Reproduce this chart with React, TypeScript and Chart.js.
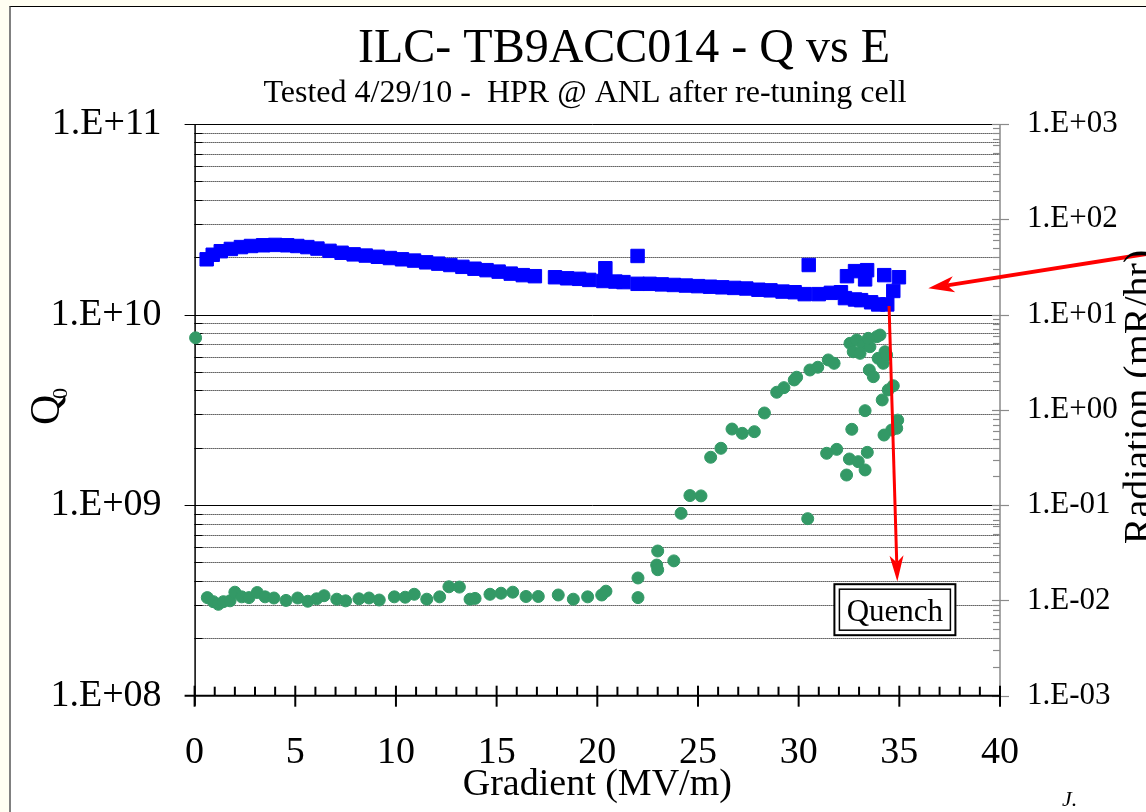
import React, { useEffect, useRef } from 'react';
import { Chart, registerables } from 'chart.js';

Chart.register(...registerables);

const FONT = '"Liberation Serif", "Times New Roman", serif';

// ---- Data: Q0 (left axis) vs gradient ----
const q0Gradient = [
  0.6, 0.9, 1.3, 1.8, 2.3, 2.8, 3.4, 4.0, 4.6, 5.1, 5.6, 6.1, 6.7, 7.3, 7.9, 8.5, 9.1, 9.7,
  10.3, 10.9, 11.5, 12.1, 12.7, 13.3, 13.9, 14.5, 15.1, 15.7, 16.3, 16.9, 17.9, 18.5, 19.1,
  19.6, 20.3, 20.4, 20.9, 21.3, 22.0, 22.0, 22.6, 23.2, 23.8, 24.4, 25.0, 25.6, 26.2, 26.8,
  27.4, 28.0, 28.6, 29.2, 29.8, 30.3, 30.5, 31.0, 31.6, 32.1, 32.3, 32.4, 32.8, 33.3, 33.4,
  32.8, 33.1, 33.6, 33.95, 34.4, 34.25, 34.7, 34.98,
];
const q0Values = [
  1.95e10, 2.06e10, 2.15e10, 2.21e10, 2.26e10, 2.29e10, 2.31e10, 2.32e10, 2.31e10, 2.29e10,
  2.26e10, 2.22e10, 2.16e10, 2.11e10, 2.07e10, 2.04e10, 2.01e10, 1.98e10, 1.95e10, 1.92e10,
  1.88e10, 1.85e10, 1.82e10, 1.78e10, 1.74e10, 1.71e10, 1.68e10, 1.64e10, 1.61e10, 1.59e10,
  1.57e10, 1.55e10, 1.54e10, 1.52e10, 1.50e10, 1.75e10, 1.49e10, 1.48e10, 2.03e10, 1.45e10,
  1.45e10, 1.44e10, 1.43e10, 1.42e10, 1.41e10, 1.40e10, 1.39e10, 1.38e10, 1.37e10, 1.35e10,
  1.34e10, 1.32e10, 1.31e10, 1.28e10, 1.82e10, 1.28e10, 1.30e10, 1.31e10, 1.22e10, 1.59e10,
  1.69e10, 1.53e10, 1.71e10, 1.20e10, 1.19e10, 1.16e10, 1.13e10, 1.13e10, 1.61e10, 1.33e10,
  1.57e10,
];

// ---- Data: radiation (right axis) vs gradient ----
const radGradient = [
  0.05, 0.63, 0.93, 1.18, 1.43, 1.76, 2.0, 2.34, 2.7, 3.11, 3.5, 3.94, 4.54, 5.12, 5.62, 6.06,
  6.43, 7.06, 7.5, 8.16, 8.66, 9.17, 9.92, 10.46, 10.91, 11.53, 12.17, 12.63, 13.15, 13.68,
  13.93, 14.67, 15.22, 15.8, 16.46, 17.07, 18.06, 18.81, 19.52, 20.22, 20.43, 22.02, 22.02,
  23.0, 22.95, 23.0, 23.8, 24.16, 24.6, 25.15, 25.63, 26.14, 26.69, 27.2, 27.8, 28.3, 28.91,
  29.27, 29.78, 29.9, 30.56, 30.95, 31.47, 31.76, 30.45, 32.55, 32.88, 33.21, 32.71, 33.05,
  33.54, 34.04, 33.88, 33.46, 34.29, 33.95, 34.2, 34.37, 33.51, 33.71, 34.7, 34.45, 34.15,
  33.3, 32.64, 34.92, 34.87, 34.62, 34.24, 31.39, 31.89, 33.41, 32.52, 32.96, 33.3, 32.38,
];
const radValues = [
  5.7, 0.0107, 0.0097, 0.0091, 0.0097, 0.0099, 0.0122, 0.0109, 0.0107, 0.0121, 0.0109, 0.0106,
  0.0100, 0.0106, 0.0098, 0.0104, 0.0112, 0.0103, 0.0099, 0.0104, 0.0106, 0.0101, 0.0109,
  0.0108, 0.0116, 0.0103, 0.0109, 0.0139, 0.0138, 0.0103, 0.0105, 0.0116, 0.0119, 0.0122,
  0.0110, 0.0110, 0.0114, 0.0103, 0.0109, 0.0114, 0.0125, 0.0172, 0.0107, 0.033, 0.0235, 0.021,
  0.026, 0.082, 0.126, 0.125, 0.318, 0.395, 0.629, 0.567, 0.59, 0.927, 1.53, 1.71, 2.06, 2.2,
  2.62, 2.8, 3.34, 3.08, 0.0721, 4.99, 5.41, 4.8, 4.07, 3.92, 4.6, 6.1, 5.86, 5.63, 4.07, 3.47,
  3.08, 3.77, 2.62, 2.23, 1.79, 1.62, 1.27, 0.98, 0.625, 0.78, 0.64, 0.614, 0.544, 0.35, 0.385,
  0.358, 0.305, 0.286, 0.234, 0.207,
];

// ---- Ticks & labels ----
const gradientTickValues = [0, 5, 10, 15, 20, 25, 30, 35, 40];
const gradientTickLabels = ['0', '5', '10', '15', '20', '25', '30', '35', '40'];
const q0TickValues = [1e8, 1e9, 1e10, 1e11];
const q0TickLabels = ['1.E+08', '1.E+09', '1.E+10', '1.E+11'];
const radTickValues = [1e-3, 1e-2, 1e-1, 1e0, 1e1, 1e2, 1e3];
const radTickLabels = ['1.E-03', '1.E-02', '1.E-01', '1.E+00', '1.E+01', '1.E+02', '1.E+03'];

const titleText = 'ILC- TB9ACC014 - Q vs E';
const subtitleText = 'Tested 4/29/10 -  HPR @ ANL after re-tuning cell';
const xAxisTitle = 'Gradient (MV/m)';
const yAxisTitleMain = 'Q';
const yAxisTitleSub = '0';
const y2AxisTitle = 'Radiation (mR/hr)';
const quenchLabel = 'Quench';
const footnote = 'J.';

// annotation anchors in data units (gradient, Q0)
const pointerArrow = { from: [48.44, 2.177e10], to: [36.44, 1.373e10] };
const quenchArrow = { from: [34.49, 1.109e10], to: [34.9, 3.975e8] };
const quenchBoxAt = [34.78, 2.827e8];

// ---- Layout constants ----
const W = 1250;
const H = 812;
const PLOT_LEFT = 194.6;
const PLOT_RIGHT = 1000;
const PLOT_TOP = 124;
const PLOT_BOTTOM = 695.7;

const matchLabel = (values: number[], labels: string[], v: number) => {
  const i = values.findIndex((t) => Math.abs(t - v) <= Math.abs(t) * 1e-6);
  return i >= 0 ? labels[i] : '';
};

function drawArrow(
  ctx: CanvasRenderingContext2D,
  x1: number, y1: number, x2: number, y2: number,
  lw: number, headLen: number, headHalf: number, notch: number,
) {
  const ang = Math.atan2(y2 - y1, x2 - x1);
  const ux = Math.cos(ang), uy = Math.sin(ang);
  const px = -uy, py = ux;
  ctx.save();
  ctx.strokeStyle = '#ff0000';
  ctx.fillStyle = '#ff0000';
  ctx.lineWidth = lw;
  ctx.lineCap = 'butt';
  ctx.beginPath();
  ctx.moveTo(x1, y1);
  ctx.lineTo(x2 - ux * (headLen - notch), y2 - uy * (headLen - notch));
  ctx.stroke();
  const bx = x2 - ux * headLen, by = y2 - uy * headLen;
  ctx.beginPath();
  ctx.moveTo(x2, y2);
  ctx.lineTo(bx + px * headHalf, by + py * headHalf);
  ctx.lineTo(x2 - ux * (headLen - notch), y2 - uy * (headLen - notch));
  ctx.lineTo(bx - px * headHalf, by - py * headHalf);
  ctx.closePath();
  ctx.fill();
  ctx.restore();
}

const decorPlugin = {
  id: 'decor',
  beforeDatasetsDraw(chart: any) {
    const ctx: CanvasRenderingContext2D = chart.ctx;
    const { left, right, top, bottom } = chart.chartArea;
    const ys = chart.scales.y;
    const y2 = chart.scales.y2;
    const xs = chart.scales.x;
    ctx.save();
    // left-axis gridlines (solid at decades, dotted at minor)
    const e0 = Math.round(Math.log10(ys.min));
    const e1 = Math.round(Math.log10(ys.max));
    for (let e = e0; e <= e1; e++) {
      for (let m = 1; m <= 9; m++) {
        if (e === e1 && m > 1) break;
        const v = m * Math.pow(10, e);
        const py = Math.round(ys.getPixelForValue(v)) + 0.5;
        if (m === 1) {
          if (e === e0) continue;
          ctx.setLineDash([]);
          ctx.strokeStyle = '#000';
          ctx.lineWidth = 1;
          ctx.beginPath();
          ctx.moveTo(left - 10, py);
          ctx.lineTo(right, py);
          ctx.stroke();
        } else {
          ctx.setLineDash([1, 1]);
          ctx.strokeStyle = '#000';
          ctx.lineWidth = 1;
          ctx.beginPath();
          ctx.moveTo(left, py);
          ctx.lineTo(right, py);
          ctx.stroke();
          ctx.setLineDash([]);
          ctx.beginPath();
          ctx.moveTo(left, py);
          ctx.lineTo(left + 8, py);
          ctx.stroke();
        }
      }
    }
    ctx.setLineDash([]);
    // right axis (grey)
    ctx.strokeStyle = '#8a8a8a';
    ctx.lineWidth = 1.5;
    ctx.beginPath();
    ctx.moveTo(right, top);
    ctx.lineTo(right, bottom);
    ctx.stroke();
    const r0 = Math.round(Math.log10(y2.min));
    const r1 = Math.round(Math.log10(y2.max));
    ctx.lineWidth = 1.2;
    for (let e = r0; e <= r1; e++) {
      for (let m = 1; m <= 9; m++) {
        if (e === r1 && m > 1) break;
        const py = Math.round(y2.getPixelForValue(m * Math.pow(10, e))) + 0.5;
        ctx.beginPath();
        if (m === 1) {
          ctx.moveTo(right - 8, py);
          ctx.lineTo(right + 9, py);
        } else {
          ctx.moveTo(right - 7, py);
          ctx.lineTo(right, py);
        }
        ctx.stroke();
      }
    }
    // left axis line
    ctx.strokeStyle = '#000';
    ctx.lineWidth = 1.5;
    ctx.beginPath();
    ctx.moveTo(left + 0.5, top);
    ctx.lineTo(left + 0.5, bottom + 10);
    ctx.stroke();
    // x axis line + ticks
    ctx.lineWidth = 2;
    ctx.beginPath();
    ctx.moveTo(left - 10, bottom);
    ctx.lineTo(right, bottom);
    ctx.stroke();
    for (let v = xs.min; v <= xs.max; v += 1) {
      const px = xs.getPixelForValue(v);
      ctx.beginPath();
      if (v % 5 === 0) {
        ctx.moveTo(px, bottom - 10);
        ctx.lineTo(px, bottom + 11);
      } else {
        ctx.moveTo(px, bottom - 9);
        ctx.lineTo(px, bottom);
      }
      ctx.stroke();
    }
    ctx.restore();
  },
  afterDatasetsDraw(chart: any) {
    const ctx: CanvasRenderingContext2D = chart.ctx;
    const xs = chart.scales.x;
    const ys = chart.scales.y;
    const P = (p: number[]) => [xs.getPixelForValue(p[0]), ys.getPixelForValue(p[1])];
    ctx.save();
    // arrows
    const [a1x, a1y] = P(pointerArrow.from);
    const [a2x, a2y] = P(pointerArrow.to);
    drawArrow(ctx, a1x, a1y, a2x, a2y, 4, 26, 8, 7);
    const [b1x, b1y] = P(quenchArrow.from);
    const [b2x, b2y] = P(quenchArrow.to);
    drawArrow(ctx, b1x, b1y, b2x, b2y, 3, 26, 7, 7);
    // Quench box
    const [qx, qy] = P(quenchBoxAt);
    ctx.fillStyle = '#fff';
    ctx.fillRect(qx - 60.5, qy - 25.5, 121, 51);
    ctx.strokeStyle = '#000';
    ctx.lineWidth = 2;
    ctx.strokeRect(qx - 60.5, qy - 25.5, 121, 51);
    ctx.lineWidth = 1.5;
    ctx.strokeRect(qx - 55.5, qy - 20.5, 111, 41);
    ctx.fillStyle = '#000';
    ctx.font = `31px ${FONT}`;
    ctx.textAlign = 'center';
    ctx.textBaseline = 'alphabetic';
    ctx.fillText(quenchLabel, qx, qy + 11.5);
    ctx.restore();
  },
  afterDraw(chart: any) {
    const ctx: CanvasRenderingContext2D = chart.ctx;
    ctx.save();
    ctx.fillStyle = '#000';
    ctx.textBaseline = 'alphabetic';
    ctx.textAlign = 'center';
    ctx.font = `48px ${FONT}`;
    ctx.fillText(titleText, 624, 62);
    ctx.font = `32px ${FONT}`;
    ctx.fillText(subtitleText, 585, 102);
    // Q0 axis title
    ctx.save();
    ctx.translate(58.7, 425);
    ctx.rotate(-Math.PI / 2);
    ctx.textAlign = 'left';
    ctx.font = `42px ${FONT}`;
    ctx.fillText(yAxisTitleMain, 0, 0);
    ctx.font = `22px ${FONT}`;
    ctx.fillText(yAxisTitleSub, 26, 8);
    ctx.restore();
    // Radiation axis title
    ctx.save();
    ctx.translate(1151, 397);
    ctx.rotate(-Math.PI / 2);
    ctx.textAlign = 'center';
    ctx.font = `40px ${FONT}`;
    ctx.fillText(y2AxisTitle, 0, 0);
    ctx.restore();
    // footnote
    ctx.textAlign = 'left';
    ctx.font = `italic 22px ${FONT}`;
    ctx.fillText(footnote, 1062, 806);
    ctx.restore();
  },
};

export default function App() {
  const ref = useRef<HTMLCanvasElement | null>(null);
  useEffect(() => {
    if (!ref.current) return;
    const chart = new Chart(ref.current, {
      type: 'scatter',
      data: {
        datasets: [
          {
            label: 'Q0',
            data: q0Gradient.map((e, i) => ({ x: e, y: q0Values[i] })),
            yAxisID: 'y',
            pointStyle: 'rect',
            pointRadius: 9.5,
            pointBackgroundColor: '#0000ff',
            pointBorderColor: '#0000ff',
            pointBorderWidth: 1,
            showLine: false,
            clip: false,
          } as any,
          {
            label: 'Radiation',
            data: radGradient.map((e, i) => ({ x: e, y: radValues[i] })),
            yAxisID: 'y2',
            pointStyle: 'circle',
            pointRadius: 6,
            pointBackgroundColor: '#339966',
            pointBorderColor: '#339966',
            pointBorderWidth: 1,
            showLine: false,
            clip: false,
          } as any,
        ],
      },
      options: {
        animation: false,
        responsive: false,
        devicePixelRatio: 1,
        events: [],
        layout: { padding: { top: PLOT_TOP, left: 0, right: 0, bottom: 0 } },
        plugins: {
          legend: { display: false },
          tooltip: { enabled: false },
          title: { display: false },
        },
        scales: {
          x: {
            type: 'linear',
            position: 'bottom',
            min: 0,
            max: 40,
            afterBuildTicks: (s: any) => {
              s.ticks = gradientTickValues.map((v) => ({ value: v }));
            },
            afterFit: (s: any) => {
              s.height = H - PLOT_BOTTOM;
            },
            ticks: {
              autoSkip: false,
              maxRotation: 0,
              minRotation: 0,
              padding: 35,
              color: '#000',
              font: { family: FONT, size: 38 },
              callback: (v: any) => matchLabel(gradientTickValues, gradientTickLabels, Number(v)),
            },
            grid: { display: false, drawTicks: false },
            border: { display: false },
            title: {
              display: true,
              text: xAxisTitle,
              color: '#000',
              font: { family: FONT, size: 38 },
              padding: { top: 0, bottom: 4 },
            },
          },
          y: {
            type: 'logarithmic',
            position: 'left',
            min: 1e8,
            max: 1e11,
            afterFit: (s: any) => {
              s.width = PLOT_LEFT;
            },
            ticks: {
              autoSkip: false,
              padding: 33,
              color: '#000',
              font: { family: FONT, size: 38 },
              callback: (v: any) => matchLabel(q0TickValues, q0TickLabels, Number(v)),
            },
            grid: { display: false, drawTicks: false },
            border: { display: false },
          },
          y2: {
            type: 'logarithmic',
            position: 'right',
            min: 1e-3,
            max: 1e3,
            afterFit: (s: any) => {
              s.width = W - PLOT_RIGHT;
            },
            ticks: {
              autoSkip: false,
              padding: 27,
              color: '#000',
              font: { family: FONT, size: 31 },
              callback: (v: any) => matchLabel(radTickValues, radTickLabels, Number(v)),
            },
            grid: { display: false, drawTicks: false },
            border: { display: false },
          },
        },
      } as any,
      plugins: [decorPlugin],
    });
    return () => chart.destroy();
  }, []);

  return (
    <div
      style={{
        position: 'fixed',
        left: 0,
        top: 0,
        width: 1146,
        height: 812,
        overflow: 'hidden',
        background: '#fffef2',
      }}
    >
      <div
        style={{
          position: 'absolute',
          left: 9,
          top: 6,
          width: 1400,
          height: 1000,
          background: '#ffffff',
          borderLeft: '2px solid #808080',
          borderTop: '1px solid #000000',
        }}
      />
      <canvas
        ref={ref}
        width={W}
        height={H}
        style={{ position: 'absolute', left: 0, top: 0, width: W, height: H }}
      />
    </div>
  );
}
